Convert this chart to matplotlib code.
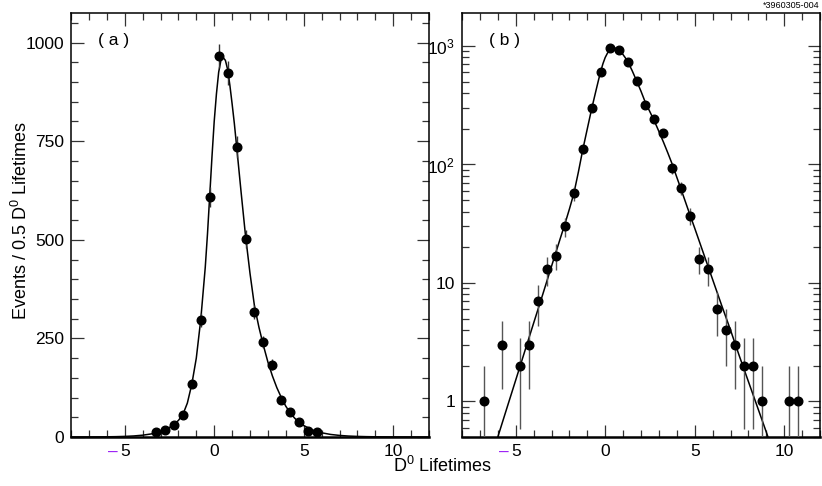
import numpy as np
import matplotlib
matplotlib.use("Agg")
import matplotlib.pyplot as plt
from matplotlib.ticker import MultipleLocator, FixedLocator, FixedFormatter, LogLocator, NullFormatter

plt.rcParams['font.family'] = ['Liberation Sans', 'DejaVu Sans']
plt.rcParams['mathtext.default'] = 'regular'

# bin centres (D0 lifetimes) and event counts
bin_x = [-6.75, -5.75, -4.75, -4.25, -3.75, -3.25, -2.75, -2.25, -1.75, -1.25,
         -0.75, -0.25, 0.25, 0.75, 1.25, 1.75, 2.25, 2.75, 3.25, 3.75,
         4.25, 4.75, 5.25, 5.75, 6.25, 6.75, 7.25, 7.75, 8.25, 8.75,
         10.25, 10.75]
counts = [1, 3, 2, 3, 7, 13, 17, 30, 57, 135,
          297, 608, 966, 922, 735, 502, 318, 241, 183, 93,
          63, 37, 16, 13, 6, 4, 3, 2, 2, 1,
          1, 1]

# fitted curve
fit_x = [-8, -7, -6.5, -6, -5.5, -5, -4.5, -4, -3.5, -3, -2.5, -2.25, -2, -1.75,
         -1.5, -1.25, -1, -0.75, -0.5, -0.375, -0.25, -0.125, 0, 0.125, 0.25,
         0.375, 0.5, 0.625, 0.75, 0.875, 1, 1.125, 1.25, 1.375, 1.5, 1.75, 2,
         2.25, 2.5, 2.75, 3, 3.25, 3.5, 3.75, 4, 4.25, 4.5, 4.75, 5, 5.5, 6,
         6.5, 7, 7.5, 8, 8.5, 9, 9.5, 10, 11, 12]
fit_y = [0.055, 0.166, 0.29, 0.5, 0.87, 1.51, 2.63, 4.57, 7.9, 13.8, 24, 31.5, 42, 57,
         86, 134, 200, 298, 430, 515, 612, 710, 800, 870, 925,
         955, 962, 955, 932, 892, 845, 795, 738, 680, 622, 510, 415,
         332, 278, 232, 190, 155, 125, 100, 78, 61, 47.5, 37, 29, 17.6, 10.7,
         6.5, 4.0, 2.4, 1.47, 0.9, 0.55, 0.33, 0.2, 0.075, 0.028]

xticks = [-5, 0, 5, 10]
xticklabels = ['5', '0', '5', '10']   # minus of -5 drawn separately (purple)

bin_x = np.array(bin_x)
counts = np.array(counts)
err = np.sqrt(counts)

fig = plt.figure(figsize=(8.22, 4.86), dpi=100)
axa = fig.add_axes([71/822, 1-437/486, 358/822, 424/486])
axb = fig.add_axes([462/822, 1-437/486, 358/822, 424/486])

FS = 12.5


def style(ax):
    ax.set_xlim(-8, 12)
    ax.xaxis.set_major_locator(FixedLocator(xticks))
    ax.xaxis.set_major_formatter(FixedFormatter(xticklabels))
    ax.xaxis.set_minor_locator(MultipleLocator(1))
    ax.tick_params(which='both', direction='in', top=True, right=True,
                   labelsize=FS, width=0.9, color='#333333')
    ax.tick_params(which='major', length=9, pad=5)
    ax.tick_params(which='minor', length=5)
    for s in ax.spines.values():
        s.set_linewidth(1.1)
    ax.spines['bottom'].set_linewidth(1.8)
    ax.annotate('\u2013', xy=(-5, 0), xycoords=('data', 'axes fraction'),
                xytext=(-8.5, -5.5), textcoords='offset points', ha='center', va='top',
                color='#9a1cf5', fontsize=FS, annotation_clip=False)


# panel (a): linear
sel = counts >= 10
axa.plot(fit_x, fit_y, color='black', lw=1.1, zorder=2)
axa.errorbar(bin_x[sel], counts[sel], yerr=err[sel], fmt='o', color='black',
             ecolor='#333333', elinewidth=1, ms=6.2, zorder=3)
axa.set_ylim(0, 1075)
axa.yaxis.set_major_locator(MultipleLocator(250))
axa.yaxis.set_minor_locator(MultipleLocator(50))
style(axa)
axa.text(0.075, 0.925, '( a )', transform=axa.transAxes, fontsize=FS)

# panel (b): log
axb.set_yscale('log')
axb.plot(fit_x, fit_y, color='black', lw=1.1, zorder=2)
axb.errorbar(bin_x, counts, yerr=err, fmt='o', color='black',
             ecolor='#555555', elinewidth=1, ms=6.2, zorder=3)
axb.set_ylim(0.5, 1900)
axb.yaxis.set_major_locator(FixedLocator([1, 10, 100, 1000]))
axb.yaxis.set_major_formatter(FixedFormatter(['1', '10', '10$^2$', '10$^3$']))
axb.yaxis.set_minor_locator(LogLocator(base=10, subs=np.arange(2, 10)))
axb.yaxis.set_minor_formatter(NullFormatter())
style(axb)
axb.text(0.075, 0.925, '( b )', transform=axb.transAxes, fontsize=FS)

fig.text(21/822, 1-220/486, 'Events / 0.5 D$^0$ Lifetimes', rotation=90,
         ha='center', va='center', fontsize=13)
fig.text(443/822, 1-466/486, 'D$^0$ Lifetimes', ha='center', va='center', fontsize=13)
fig.text(819/822, 1-5/486, '*3960305-004', ha='right', va='center', fontsize=6.5)

fig.savefig('out.png', dpi=100)
